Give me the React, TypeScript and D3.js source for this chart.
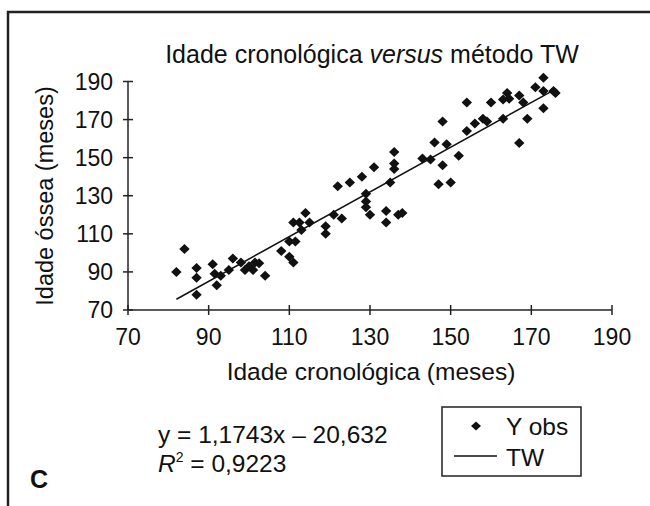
import * as d3 from "d3";

// Idade cronológica (x) e idade óssea pelo método TW (y), em meses
const obsX = [
  82, 84, 87, 87, 87, 91, 91.5, 93, 92, 95, 96, 98, 99, 100, 101.5, 101, 102.5, 104,
  108, 110, 111, 110, 111.5, 111, 112.5, 113, 114, 115, 119, 119, 121, 122, 123, 125,
  128, 129, 129, 129, 130, 131, 134, 134, 137, 138, 135, 136, 136, 136, 143, 145, 146,
  148, 149, 148, 147, 150, 152, 154, 154, 156, 158, 159, 160, 163, 163, 164, 164.5,
  167, 168, 169, 167, 171, 173, 173, 175.5, 176, 173,
];
const obsY = [
  90, 102, 92, 87, 78, 94, 89, 88, 83, 91, 97, 95, 91, 93, 95, 91, 94.5, 88,
  101, 98, 95, 106, 106, 116, 116, 112, 121, 116, 114, 110, 120, 135, 118, 137,
  140, 131, 127, 124, 120, 145, 122, 116, 120, 121, 137, 144, 147, 153, 149.5, 149, 158,
  169, 157, 146, 136, 137, 151, 179, 164, 168, 170.5, 169, 179, 170.5, 180.5, 184, 181,
  182.6, 179, 170.5, 157.7, 187, 192, 185, 185, 184, 176,
];
const xTicks = [70, 90, 110, 130, 150, 170, 190];
const yTicks = [70, 90, 110, 130, 150, 170, 190];
const slope = 1.1743;
const intercept = -20.632;

const W = 650;
const H = 506;
const font = "'Liberation Sans', Arial, Helvetica, sans-serif";

export default function App() {
  const x = d3.scaleLinear().domain([70, 190]).range([128, 612]);
  const y = d3.scaleLinear().domain([70, 190]).range([310, 81.5]);

  const points = obsX.map((v, i) => ({ x: v, y: obsY[i] }));
  const xMin = d3.min(obsX) as number;
  const xMax = d3.max(obsX) as number;
  const fitLine = d3
    .line<number>()
    .x((d) => x(d))
    .y((d) => y(slope * d + intercept))([xMin, xMax]);

  const diamond = (r: number, h: number) => `M0,${-h}L${r},0L0,${h}L${-r},0Z`;

  return (
    <svg
      width={W}
      height={H}
      style={{ position: "absolute", left: 0, top: 0, background: "#fff" }}
      fontFamily={font}
    >
      {/* moldura */}
      <path d={`M8,${H}V12H${W}`} fill="none" stroke="#222" strokeWidth={2.5} />

      <text x={372} y={63} fontSize={25} textAnchor="middle" fill="#111">
        Idade cronológica <tspan fontStyle="italic">versus</tspan> método TW
      </text>

      {/* eixos */}
      <line x1={x(70)} x2={x(190)} y1={y(70)} y2={y(70)} stroke="#222" strokeWidth={1.5} />
      <line x1={x(70)} x2={x(70)} y1={y(70)} y2={y(190)} stroke="#222" strokeWidth={1.5} />
      {xTicks.map((t) => (
        <g key={"x" + t}>
          <line x1={x(t)} x2={x(t)} y1={y(70) - 5} y2={y(70) + 5} stroke="#222" strokeWidth={1.5} />
          <text x={x(t)} y={345} fontSize={23} textAnchor="middle" fill="#111">
            {t}
          </text>
        </g>
      ))}
      {yTicks.map((t) => (
        <g key={"y" + t}>
          <line x1={x(70) - 5} x2={x(70) + 5} y1={y(t)} y2={y(t)} stroke="#222" strokeWidth={1.5} />
          <text x={113} y={y(t) + 8} fontSize={23} textAnchor="end" fill="#111">
            {t}
          </text>
        </g>
      ))}
      <text x={371} y={380} fontSize={24.5} textAnchor="middle" fill="#111">
        Idade cronológica (meses)
      </text>
      <text
        transform={`translate(53,196) rotate(-90)`}
        fontSize={23.5}
        textAnchor="middle"
        fill="#111"
      >
        Idade óssea (meses)
      </text>

      {/* pontos e reta */}
      {points.map((p, i) => (
        <path
          key={i}
          d={diamond(5.2, 5)}
          transform={`translate(${x(p.x)},${y(p.y)})`}
          fill="#111"
        />
      ))}
      <path d={fitLine || ""} fill="none" stroke="#111" strokeWidth={1.5} />

      {/* equação */}
      <text x={158} y={443} fontSize={24.5} fill="#111">
        y = 1,1743x – 20,632
      </text>
      <text x={158} y={472} fontSize={24.5} fill="#111">
        <tspan fontStyle="italic">R</tspan>
        <tspan fontSize={14} dy={-10}>2</tspan>
        <tspan dy={10}> = 0,9223</tspan>
      </text>
      <text x={30} y={488} fontSize={25} fontWeight="bold" fill="#111">
        C
      </text>

      {/* legenda */}
      <rect x={442} y={407} width={139} height={69} fill="none" stroke="#222" strokeWidth={1.5} />
      <path d={diamond(5, 4.5)} transform="translate(476,426)" fill="#111" />
      <text x={506} y={435} fontSize={24.5} fill="#111">
        Y obs
      </text>
      <line x1={454} x2={497} y1={456} y2={456} stroke="#111" strokeWidth={1.5} />
      <text x={506} y={466} fontSize={24.5} fill="#111">
        TW
      </text>
    </svg>
  );
}
